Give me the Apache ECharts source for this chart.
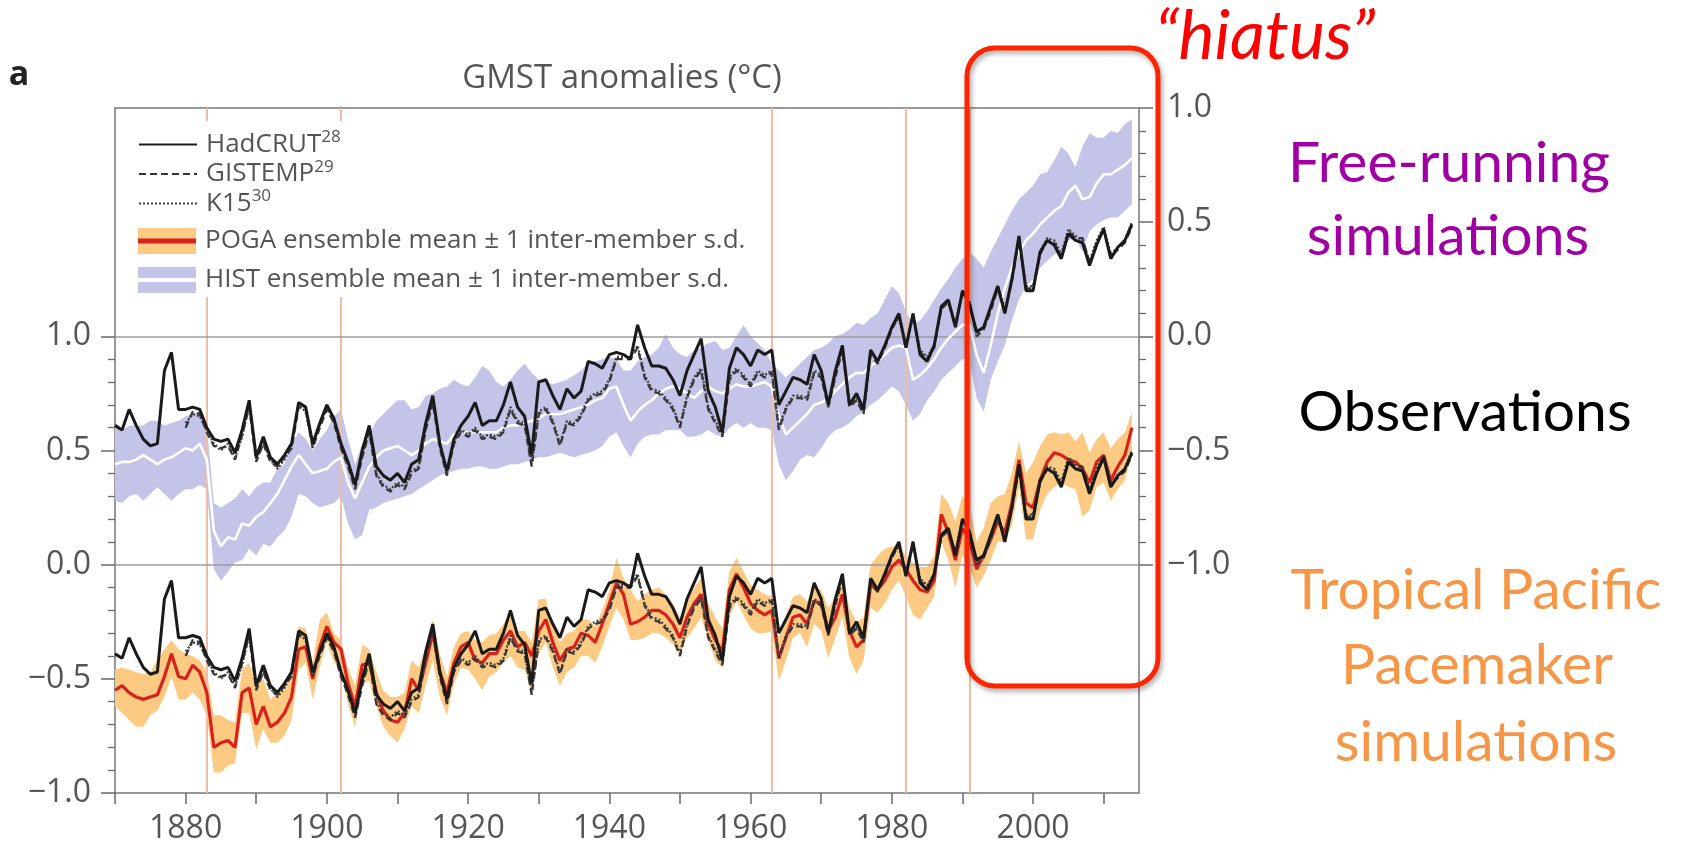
<!DOCTYPE html>
<html>
<head>
<meta charset="utf-8">
<script src="https://cdn.jsdelivr.net/npm/echarts@6/dist/echarts.min.js"></script>
<style>html,body{margin:0;padding:0;background:#fff}#c{width:1690px;height:851px}</style>
</head>
<body>
<div id="c"></div>
<script>
// ---------------- data (annual values, °C) ----------------
const FIRST_YEAR = 1870;
const X_MIN = 1870, X_MAX = 2015;
const eruptions = [1883, 1902, 1963, 1982, 1991];
const baselines = [0, 1];           // left-axis reference lines
const xLabelYears = [1880, 1900, 1920, 1940, 1960, 1980, 2000];

const hadcrut = [
 -0.39,-0.41,-0.32,-0.39,-0.45,-0.48,-0.47,-0.15,-0.07,-0.32,
 -0.32,-0.31,-0.32,-0.40,-0.45,-0.46,-0.45,-0.51,-0.41,-0.28,
 -0.53,-0.44,-0.53,-0.56,-0.52,-0.47,-0.29,-0.31,-0.47,-0.38,
 -0.30,-0.36,-0.47,-0.55,-0.65,-0.50,-0.39,-0.57,-0.61,-0.63,
 -0.60,-0.64,-0.56,-0.54,-0.38,-0.26,-0.47,-0.59,-0.45,-0.39,
 -0.35,-0.29,-0.39,-0.37,-0.37,-0.30,-0.20,-0.31,-0.35,-0.52,
 -0.20,-0.19,-0.26,-0.32,-0.23,-0.27,-0.24,-0.11,-0.12,-0.14,
 -0.08,-0.07,-0.08,-0.10,0.05,-0.05,-0.13,-0.13,-0.14,-0.19,
 -0.26,-0.15,-0.08,-0.01,-0.24,-0.31,-0.42,-0.14,-0.05,-0.08,
 -0.13,-0.06,-0.08,-0.06,-0.30,-0.24,-0.18,-0.19,-0.21,-0.08,
 -0.15,-0.30,-0.15,-0.04,-0.30,-0.25,-0.32,-0.06,-0.11,-0.04,
 0.04,0.10,-0.05,0.10,-0.08,-0.11,-0.04,0.13,0.16,0.04,
 0.20,0.14,0.02,0.04,0.13,0.22,0.10,0.25,0.44,0.20,
 0.20,0.37,0.42,0.40,0.34,0.45,0.42,0.41,0.31,0.40,
 0.47,0.34,0.39,0.42,0.49
];
const gistemp = [
 null,null,null,null,null,null,null,null,null,null,
 -0.40,-0.33,-0.34,-0.42,-0.48,-0.49,-0.48,-0.54,-0.43,-0.31,
 -0.55,-0.47,-0.55,-0.57,-0.53,-0.49,-0.31,-0.32,-0.49,-0.40,
 -0.32,-0.38,-0.49,-0.57,-0.67,-0.53,-0.42,-0.61,-0.66,-0.68,
 -0.65,-0.67,-0.60,-0.58,-0.41,-0.29,-0.49,-0.61,-0.47,-0.42,
 -0.44,-0.41,-0.45,-0.44,-0.45,-0.42,-0.32,-0.38,-0.39,-0.57,
 -0.34,-0.32,-0.38,-0.48,-0.38,-0.39,-0.35,-0.28,-0.26,-0.25,
 -0.20,-0.10,-0.10,-0.10,-0.05,-0.18,-0.24,-0.25,-0.28,-0.32,
 -0.40,-0.27,-0.19,-0.15,-0.32,-0.38,-0.44,-0.19,-0.15,-0.18,
 -0.22,-0.16,-0.18,-0.16,-0.41,-0.32,-0.27,-0.27,-0.28,-0.16,
 -0.18,-0.31,-0.18,-0.06,-0.31,-0.28,-0.34,-0.08,-0.12,-0.05,
 0.03,0.09,-0.04,0.09,-0.07,-0.10,-0.05,0.12,0.15,0.05,
 0.19,0.15,0.00,0.03,0.11,0.21,0.11,0.24,0.42,0.21,
 0.21,0.36,0.42,0.41,0.35,0.46,0.43,0.43,0.32,0.41,
 0.47,0.35,0.38,0.41,0.48
];
const k15 = [
 null,null,null,null,null,null,null,null,null,null,
 -0.38,-0.34,-0.35,-0.41,-0.47,-0.50,-0.47,-0.53,-0.44,-0.30,
 -0.54,-0.46,-0.54,-0.58,-0.54,-0.48,-0.30,-0.33,-0.48,-0.39,
 -0.31,-0.37,-0.48,-0.56,-0.66,-0.52,-0.41,-0.60,-0.65,-0.67,
 -0.64,-0.66,-0.59,-0.57,-0.40,-0.28,-0.48,-0.60,-0.46,-0.41,
 -0.43,-0.40,-0.44,-0.43,-0.44,-0.41,-0.31,-0.37,-0.38,-0.56,
 -0.33,-0.31,-0.37,-0.47,-0.37,-0.38,-0.34,-0.27,-0.25,-0.24,
 -0.19,-0.09,-0.09,-0.09,-0.04,-0.17,-0.23,-0.24,-0.27,-0.31,
 -0.39,-0.26,-0.18,-0.14,-0.31,-0.37,-0.43,-0.18,-0.14,-0.17,
 -0.21,-0.15,-0.17,-0.15,-0.40,-0.31,-0.26,-0.26,-0.27,-0.15,
 -0.17,-0.30,-0.17,-0.05,-0.30,-0.27,-0.33,-0.07,-0.11,-0.04,
 0.04,0.08,-0.05,0.10,-0.06,-0.09,-0.04,0.13,0.16,0.05,
 0.20,0.15,0.01,0.04,0.12,0.22,0.12,0.25,0.43,0.22,
 0.22,0.37,0.43,0.42,0.36,0.47,0.44,0.42,0.33,0.42,
 0.48,0.36,0.39,0.42,0.50
];
// HIST (free-running) ensemble, right axis
const histMean = [
 -0.56,-0.55,-0.55,-0.54,-0.52,-0.54,-0.56,-0.54,-0.53,-0.51,
 -0.49,-0.50,-0.47,-0.54,-0.85,-0.92,-0.88,-0.89,-0.82,-0.83,
 -0.79,-0.77,-0.73,-0.69,-0.63,-0.57,-0.52,-0.56,-0.60,-0.59,
 -0.58,-0.55,-0.53,-0.64,-0.71,-0.64,-0.57,-0.53,-0.50,-0.49,
 -0.48,-0.50,-0.52,-0.50,-0.47,-0.45,-0.46,-0.47,-0.43,-0.42,
 -0.42,-0.42,-0.42,-0.42,-0.42,-0.40,-0.39,-0.39,-0.38,-0.37,
 -0.36,-0.34,-0.34,-0.34,-0.33,-0.32,-0.31,-0.30,-0.28,-0.27,
 -0.23,-0.22,-0.30,-0.37,-0.33,-0.30,-0.28,-0.25,-0.23,-0.22,
 -0.23,-0.25,-0.27,-0.24,-0.22,-0.24,-0.25,-0.23,-0.21,-0.22,
 -0.22,-0.21,-0.20,-0.22,-0.35,-0.43,-0.40,-0.37,-0.34,-0.30,
 -0.29,-0.27,-0.24,-0.21,-0.18,-0.16,-0.16,-0.13,-0.11,-0.08,
 -0.05,-0.04,-0.05,-0.19,-0.17,-0.14,-0.10,-0.05,-0.01,0.02,
 0.05,0.05,-0.08,-0.16,-0.04,0.10,0.21,0.30,0.37,0.42,
 0.45,0.49,0.52,0.55,0.57,0.63,0.66,0.60,0.61,0.67,
 0.71,0.71,0.73,0.75,0.78
];
const histHigh = [
 -0.39,-0.41,-0.39,-0.39,-0.39,-0.37,-0.37,-0.39,-0.38,-0.37,
 -0.35,-0.34,-0.33,-0.39,-0.73,-0.75,-0.73,-0.71,-0.67,-0.70,
 -0.66,-0.64,-0.64,-0.58,-0.56,-0.47,-0.42,-0.45,-0.50,-0.45,
 -0.41,-0.35,-0.32,-0.45,-0.56,-0.47,-0.43,-0.37,-0.34,-0.31,
 -0.28,-0.28,-0.32,-0.31,-0.26,-0.25,-0.23,-0.22,-0.19,-0.21,
 -0.22,-0.18,-0.13,-0.15,-0.20,-0.22,-0.19,-0.15,-0.12,-0.16,
 -0.19,-0.20,-0.21,-0.20,-0.19,-0.17,-0.15,-0.12,-0.11,-0.10,
 -0.09,-0.10,-0.15,-0.15,-0.11,-0.09,-0.08,-0.05,0.01,-0.05,
 -0.08,-0.09,-0.06,-0.05,-0.03,-0.02,-0.06,-0.05,0.00,0.05,
 0.00,-0.03,-0.06,-0.12,-0.15,-0.18,-0.15,-0.12,-0.09,-0.06,
 -0.05,-0.03,0.00,0.01,0.03,0.06,0.05,0.08,0.10,0.16,
 0.22,0.19,0.11,0.05,0.07,0.11,0.16,0.21,0.25,0.30,
 0.34,0.37,0.34,0.30,0.37,0.43,0.49,0.55,0.60,0.63,
 0.66,0.71,0.72,0.77,0.83,0.80,0.74,0.83,0.89,0.87,
 0.87,0.90,0.89,0.93,0.95
];
const histLow = [
 -0.72,-0.73,-0.70,-0.69,-0.72,-0.69,-0.66,-0.69,-0.72,-0.69,
 -0.67,-0.67,-0.65,-0.67,-1.02,-1.07,-1.03,-0.99,-0.98,-0.93,
 -0.96,-0.91,-0.92,-0.88,-0.85,-0.79,-0.69,-0.70,-0.73,-0.75,
 -0.74,-0.73,-0.70,-0.82,-0.89,-0.87,-0.76,-0.75,-0.73,-0.72,
 -0.71,-0.70,-0.69,-0.67,-0.65,-0.63,-0.61,-0.60,-0.59,-0.58,
 -0.58,-0.57,-0.57,-0.58,-0.58,-0.57,-0.56,-0.56,-0.55,-0.54,
 -0.53,-0.53,-0.52,-0.51,-0.52,-0.53,-0.52,-0.51,-0.50,-0.48,
 -0.44,-0.42,-0.48,-0.53,-0.47,-0.44,-0.43,-0.43,-0.41,-0.41,
 -0.41,-0.44,-0.44,-0.43,-0.41,-0.43,-0.44,-0.40,-0.38,-0.40,
 -0.38,-0.40,-0.40,-0.41,-0.56,-0.63,-0.59,-0.54,-0.52,-0.53,
 -0.49,-0.44,-0.41,-0.40,-0.38,-0.35,-0.33,-0.30,-0.28,-0.25,
 -0.22,-0.24,-0.30,-0.37,-0.34,-0.28,-0.24,-0.19,-0.16,-0.13,
 -0.10,-0.10,-0.27,-0.33,-0.19,-0.11,-0.04,0.07,0.16,0.22,
 0.25,0.30,0.33,0.36,0.37,0.42,0.43,0.37,0.46,0.49,
 0.51,0.52,0.52,0.55,0.58
];
// POGA (tropical Pacific pacemaker) ensemble, left axis
const pogaMean = [
 -0.55,-0.53,-0.56,-0.58,-0.59,-0.58,-0.57,-0.49,-0.39,-0.49,
 -0.50,-0.44,-0.47,-0.56,-0.80,-0.78,-0.77,-0.80,-0.56,-0.54,
 -0.70,-0.62,-0.71,-0.69,-0.65,-0.58,-0.37,-0.36,-0.50,-0.36,
 -0.27,-0.34,-0.37,-0.52,-0.62,-0.44,-0.43,-0.56,-0.64,-0.68,
 -0.69,-0.65,-0.50,-0.55,-0.43,-0.30,-0.47,-0.56,-0.43,-0.36,
 -0.34,-0.42,-0.43,-0.39,-0.39,-0.33,-0.29,-0.36,-0.34,-0.40,
 -0.29,-0.24,-0.34,-0.42,-0.37,-0.36,-0.30,-0.31,-0.34,-0.26,
 -0.17,-0.08,-0.13,-0.26,-0.25,-0.23,-0.20,-0.20,-0.22,-0.26,
 -0.32,-0.23,-0.17,-0.13,-0.26,-0.33,-0.38,-0.11,-0.04,-0.10,
 -0.17,-0.20,-0.22,-0.20,-0.41,-0.32,-0.23,-0.22,-0.26,-0.16,
 -0.17,-0.29,-0.23,-0.13,-0.29,-0.36,-0.33,-0.09,-0.11,-0.07,
 -0.01,0.02,-0.02,-0.07,-0.11,-0.12,-0.07,0.22,0.14,0.02,
 0.16,0.11,-0.02,0.04,0.11,0.19,0.14,0.27,0.46,0.27,
 0.25,0.37,0.45,0.49,0.48,0.46,0.45,0.42,0.36,0.45,
 0.48,0.37,0.43,0.48,0.60
];
const pogaHigh = [
 -0.46,-0.45,-0.46,-0.47,-0.48,-0.47,-0.42,-0.37,-0.33,-0.37,
 -0.39,-0.40,-0.42,-0.47,-0.66,-0.66,-0.68,-0.69,-0.46,-0.43,
 -0.53,-0.50,-0.59,-0.56,-0.55,-0.49,-0.27,-0.28,-0.43,-0.24,
 -0.21,-0.30,-0.33,-0.45,-0.53,-0.35,-0.37,-0.47,-0.55,-0.58,
 -0.58,-0.56,-0.42,-0.45,-0.36,-0.24,-0.39,-0.49,-0.36,-0.30,
 -0.29,-0.33,-0.34,-0.31,-0.30,-0.26,-0.21,-0.29,-0.29,-0.34,
 -0.15,-0.15,-0.27,-0.34,-0.30,-0.29,-0.24,-0.24,-0.27,-0.20,
 -0.11,0.03,-0.06,-0.11,-0.16,-0.13,-0.11,-0.10,-0.13,-0.17,
 -0.23,-0.16,-0.10,-0.06,-0.17,-0.23,-0.28,-0.03,0.03,-0.03,
 -0.09,-0.11,-0.13,-0.14,-0.32,-0.22,-0.14,-0.13,-0.16,-0.10,
 -0.11,-0.19,-0.14,-0.04,-0.19,-0.25,-0.23,0.00,0.04,0.07,
 0.08,0.08,0.04,0.01,-0.01,-0.01,0.04,0.31,0.27,0.19,
 0.30,0.27,0.10,0.16,0.27,0.30,0.31,0.40,0.54,0.40,
 0.45,0.52,0.57,0.58,0.57,0.58,0.54,0.58,0.49,0.55,
 0.58,0.51,0.55,0.58,0.67
];
const pogaLow = [
 -0.62,-0.65,-0.68,-0.71,-0.71,-0.66,-0.64,-0.58,-0.49,-0.59,
 -0.59,-0.56,-0.59,-0.66,-0.91,-0.91,-0.88,-0.87,-0.65,-0.65,
 -0.81,-0.72,-0.78,-0.78,-0.75,-0.68,-0.46,-0.43,-0.59,-0.45,
 -0.34,-0.43,-0.45,-0.61,-0.71,-0.52,-0.51,-0.62,-0.71,-0.75,
 -0.78,-0.72,-0.62,-0.65,-0.53,-0.42,-0.58,-0.66,-0.52,-0.45,
 -0.46,-0.50,-0.55,-0.49,-0.47,-0.43,-0.40,-0.45,-0.46,-0.55,
 -0.39,-0.34,-0.45,-0.53,-0.47,-0.45,-0.40,-0.40,-0.43,-0.36,
 -0.27,-0.19,-0.24,-0.33,-0.33,-0.32,-0.30,-0.30,-0.32,-0.35,
 -0.39,-0.32,-0.28,-0.23,-0.33,-0.42,-0.45,-0.23,-0.16,-0.22,
 -0.28,-0.30,-0.30,-0.29,-0.51,-0.42,-0.32,-0.30,-0.36,-0.26,
 -0.29,-0.41,-0.32,-0.23,-0.41,-0.48,-0.42,-0.19,-0.21,-0.17,
 -0.11,-0.07,-0.14,-0.22,-0.24,-0.19,-0.14,0.10,0.02,-0.10,
 0.04,-0.01,-0.10,-0.05,0.02,0.10,0.10,0.17,0.34,0.11,
 0.11,0.24,0.31,0.34,0.36,0.34,0.33,0.21,0.24,0.34,
 0.36,0.28,0.33,0.37,0.48
];

// ---------------- layout ----------------
const PL = 115, PR = 1139, PT = 108, PB = 793;
const Y_MIN = -1, Y_MAX = 2;
const yPix = v => PT + (Y_MAX - v) / (Y_MAX - Y_MIN) * (PB - PT);
const xPix = yr => PL + (yr - X_MIN) / (X_MAX - X_MIN) * (PR - PL);

const SANS = '"Open Sans", "Noto Sans", "DejaVu Sans", sans-serif';
const LATO = 'Lato, "Open Sans", sans-serif';
const TXT = '#555';

const C = {
  hist: '#c4c3e8', poga: '#fdca84', red: '#d8211b', volc: '#efbca6',
  base: '#9c9c9c', axis: '#777', had: '#1a1a1a', gis: '#353535', k15: '#404040'
};

const pairs = a => a.map((v, i) => [FIRST_YEAR + i, v]);
const fmtY = v => (v < 0 ? '\u2212' : '') + Math.abs(v).toFixed(1);

const svgIcon = (band, mid, midH) => 'image://data:image/svg+xml;charset=utf-8,' + encodeURIComponent(
  `<svg xmlns="http://www.w3.org/2000/svg" width="58" height="26"><rect width="58" height="26" fill="${band}"/><rect y="${13 - midH / 2}" width="58" height="${midH}" fill="${mid}"/></svg>`);

const supText = { HadCRUT: ['HadCRUT', '28'], GISTEMP: ['GISTEMP', '29'], K15: ['K15', '30'] };
const noHover = { disabled: true };

// ±1 s.d. band drawn as one polygon through the axis scales
const band = (name, yi, hi, lo, color) => ({
  name, type: 'custom', coordinateSystem: 'cartesian2d', xAxisIndex: 0, yAxisIndex: yi,
  data: hi.map((v, i) => [FIRST_YEAR + i, lo[i], v]),
  encode: { x: 0, y: [1, 2] }, z: 1, silent: true, emphasis: noHover, itemStyle: { color },
  renderItem: (params, api) => {
    if (params.dataIndexInside !== 0) return null;
    const n = params.dataInsideLength, up = [], dn = [];
    for (let i = 0; i < n; i++) {
      const x = api.value(0, i);
      up.push(api.coord([x, api.value(2, i)]));
      dn.push(api.coord([x, api.value(1, i)]));
    }
    return { type: 'polygon', shape: { points: up.concat(dn.reverse()) }, style: { fill: color, stroke: null } };
  }
});
const line = (name, yi, arr, color, width, type, z, extra) => Object.assign({
  name, type: 'line', xAxisIndex: 0, yAxisIndex: yi, data: pairs(arr), symbol: 'none', showSymbol: false,
  lineStyle: { color, width, type }, itemStyle: { color }, z, silent: true, emphasis: noHover, connectNulls: false
}, extra || {});

const tickAxisY = (grid, pos) => ({
  gridIndex: grid, type: 'value', position: pos, min: -1, max: 1, interval: 0.5,
  axisLine: { show: false },
  axisTick: { show: true, inside: false, length: 14, lineStyle: { color: '#6a6a6a', width: 1.5 } },
  minorTick: { show: true, splitNumber: 5, length: 7, lineStyle: { color: '#6a6a6a', width: 1.3 } },
  axisLabel: { show: true, formatter: fmtY, fontFamily: SANS, fontSize: 32, color: TXT,
    margin: pos === 'left' ? 24 : 28, showMinLabel: true, showMaxLabel: true },
  splitLine: { show: false }, minorSplitLine: { show: false }
});

const textEl = (x, y, text, font, fill, z) => ({
  type: 'text', silent: true, z: z || 10, x, y,
  style: { text, font, fill, align: 'center', verticalAlign: 'middle', textAlign: 'center', textVerticalAlign: 'middle' }
});

const option = {
  animation: false,
  backgroundColor: '#fff',
  grid: [
    { left: PL, top: PT, width: PR - PL, height: PB - PT, show: true, borderColor: C.axis, borderWidth: 1.5, backgroundColor: 'transparent' },
    { left: PL, top: yPix(1), width: PR - PL, height: PB - yPix(1) },
    { left: PL, top: PT, width: PR - PL, height: yPix(0) - PT },
    { left: PL, top: PT, width: xPix(2010) - PL, height: PB - PT }
  ],
  xAxis: [
    { gridIndex: 0, type: 'value', min: X_MIN, max: X_MAX, axisLine: { show: false }, axisTick: { show: false }, axisLabel: { show: false }, splitLine: { show: false } },
    { gridIndex: 1, type: 'value', min: X_MIN, max: X_MAX, show: false },
    { gridIndex: 2, type: 'value', min: X_MIN, max: X_MAX, show: false },
    { gridIndex: 3, type: 'value', min: X_MIN, max: 2010, interval: 10, position: 'bottom',
      axisLine: { show: false },
      axisTick: { show: true, length: 11, lineStyle: { color: '#6a6a6a', width: 1.5 } },
      axisLabel: { formatter: v => (xLabelYears.indexOf(v) >= 0 ? String(v) : ''), fontFamily: SANS, fontSize: 32, color: TXT, margin: 20, showMinLabel: true, showMaxLabel: true },
      splitLine: { show: false } }
  ],
  yAxis: [
    { gridIndex: 0, type: 'value', min: Y_MIN, max: Y_MAX, axisLine: { show: false }, axisTick: { show: false }, axisLabel: { show: false }, splitLine: { show: false } },
    { gridIndex: 0, type: 'value', position: 'right', min: Y_MIN - 1, max: Y_MAX - 1, axisLine: { show: false }, axisTick: { show: false }, axisLabel: { show: false }, splitLine: { show: false } },
    tickAxisY(1, 'left'),
    tickAxisY(2, 'right'),
    { gridIndex: 3, type: 'value', min: 0, max: 1, show: false }
  ],
  legend: [
    { data: ['HadCRUT', 'GISTEMP', 'K15'], orient: 'vertical', left: 138, top: 129, padding: 0, itemGap: 1,
      itemWidth: 58, itemHeight: 14, selectedMode: false, z: 8, itemStyle: { opacity: 0 },
      formatter: n => `{t|${supText[n][0]}}{s|${supText[n][1]}}`,
      textStyle: { rich: {
        t: { fontFamily: SANS, fontSize: 26, color: TXT, lineHeight: 31, padding: [0, 0, 0, 4] },
        s: { fontFamily: SANS, fontSize: 17, color: TXT, lineHeight: 17, verticalAlign: 'top' } } } },
    { data: [{ name: 'POGA', icon: svgIcon(C.poga, C.red, 5) }, { name: 'HIST', icon: svgIcon(C.hist, '#ffffff', 4) }],
      orient: 'vertical', left: 138, top: 228, padding: 0, itemGap: 13, itemWidth: 58, itemHeight: 26,
      selectedMode: false, z: 8,
      formatter: n => `{t|${n} ensemble mean \u00b1 1 inter-member s.d.}`,
      textStyle: { rich: { t: { fontFamily: SANS, fontSize: 26, color: TXT, lineHeight: 31, padding: [0, 0, 0, 4] } } } }
  ],
  series: [
    band('HIST', 1, histHigh, histLow, C.hist),
    band('POGA', 0, pogaHigh, pogaLow, C.poga),
    line('HIST', 1, histMean, '#ffffff', 2.6, 'solid', 3),
    line('POGA', 0, pogaMean, C.red, 3.2, 'solid', 3, {
      markLine: {
        silent: true, symbol: ['none', 'none'], z: 2, label: { show: false }, emphasis: noHover,
        data: eruptions.map(y => ({ xAxis: y, lineStyle: { color: C.volc, width: 2, type: 'solid' } }))
          .concat(baselines.map(v => ({ yAxis: v, lineStyle: { color: C.base, width: 1.6, type: 'solid' } })))
      }
    }),
    line('HadCRUT', 1, hadcrut, C.had, 3, 'solid', 5),
    line('GISTEMP', 1, gistemp, C.gis, 2.3, [7, 4], 4),
    line('K15', 1, k15, C.k15, 2.3, [2, 2], 4),
    line('HadCRUT', 0, hadcrut, C.had, 3, 'solid', 5),
    line('GISTEMP', 0, gistemp, C.gis, 2.3, [7, 4], 4),
    line('K15', 0, k15, C.k15, 2.3, [2, 2], 4)
  ],
  graphic: [
    { type: 'rect', silent: true, z: 3, shape: { x: PL + 2, y: 121, width: 650, height: 176 }, style: { fill: '#ffffff' } },
    textEl(622, 79, 'GMST anomalies (\u00b0C)', `33px ${SANS}`, TXT),
    textEl(19, 75, 'a', `bold 34px ${SANS}`, '#222'),
    { type: 'rect', silent: true, z: 20, shape: { x: 967, y: 48, width: 191, height: 638, r: 28 },
      style: { fill: 'none', stroke: '#ff2400', lineWidth: 5, shadowBlur: 5, shadowColor: 'rgba(0,0,0,0.35)', shadowOffsetX: 2, shadowOffsetY: 3 } },
    textEl(1265, 37, '\u201Chiatus\u201D', `italic 68px ${LATO}`, '#ff0000', 20),
    textEl(1449, 164, 'Free-running', `57px ${LATO}`, '#a000a3'),
    textEl(1448, 237, 'simulations', `57px ${LATO}`, '#a000a3'),
    textEl(1465, 413, 'Observations', `57px ${LATO}`, '#000000'),
    textEl(1476, 591, 'Tropical Pacific', `57px ${LATO}`, '#f79646'),
    textEl(1477, 666, 'Pacemaker', `57px ${LATO}`, '#f79646'),
    textEl(1476, 743, 'simulations', `57px ${LATO}`, '#f79646')
  ]
};

const chart = echarts.init(document.getElementById('c'), null, { renderer: 'canvas', width: 1690, height: 851 });
chart.setOption(option);
</script>
</body>
</html>
